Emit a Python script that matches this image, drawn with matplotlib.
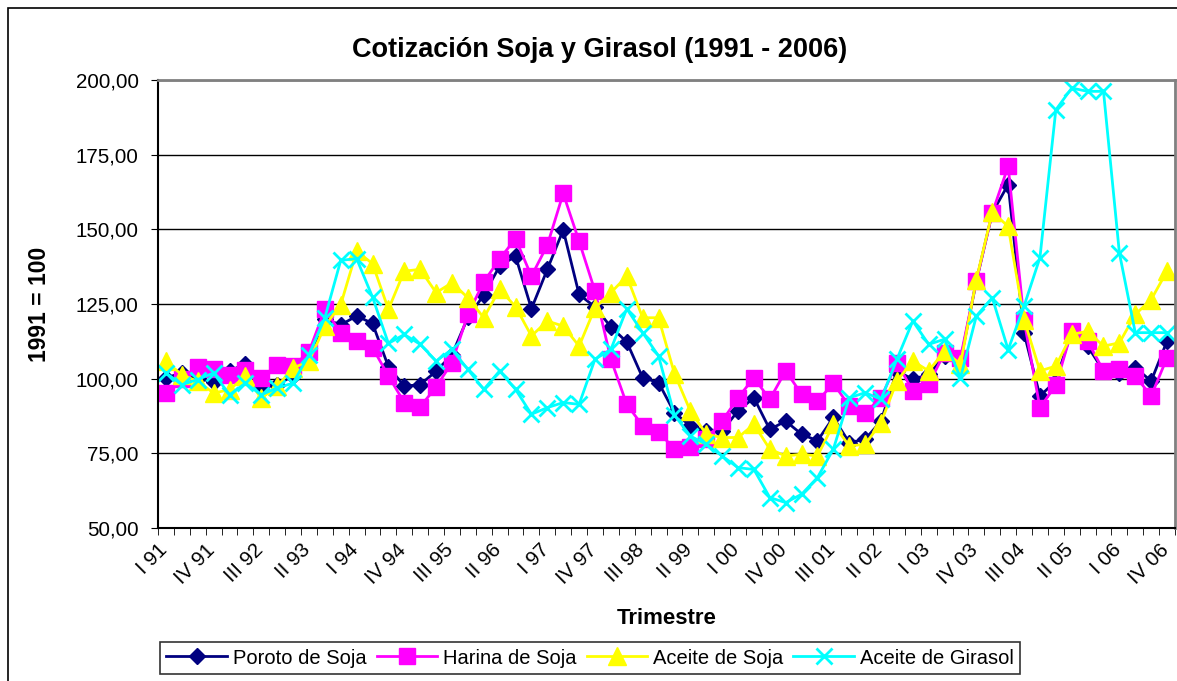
import numpy as np
import matplotlib
matplotlib.use("Agg")
import matplotlib.pyplot as plt
from matplotlib.patches import Rectangle
from matplotlib.transforms import ScaledTranslation

plt.rcParams['font.family'] = ['Liberation Sans', 'DejaVu Sans']

# datos (1991 = 100), trimestres I 91 .. IV 06
anios = list(range(91, 100)) + list(range(0, 7))
romanos = ["I", "II", "III", "IV"]
trimestres = [f"{r} {a:02d}" for a in anios for r in romanos]

poroto = [100.2, 102.0, 100.2, 98.8, 102.5, 105.0, 97.0, 98.0, 101.0, 107.0,
          120.0, 118.0, 121.0, 118.5, 104.0, 97.5, 98.0, 102.5, 108.0, 120.5,
          128.0, 137.7, 141.0, 123.4, 136.6, 149.8, 128.2, 124.0, 117.3, 112.3,
          100.3, 98.7, 88.6, 84.2, 82.5, 82.5, 89.2, 93.6, 83.0, 85.8,
          81.4, 79.2, 87.0, 78.6, 79.7, 85.8, 102.6, 99.8, 101.4, 107.6,
          105.9, 132.7, 155.5, 165.0, 115.3, 94.2, 99.2, 116.0, 110.9, 102.6,
          102.0, 103.7, 99.2, 112.6]

harina = [95.2, 100.0, 104.0, 103.2, 101.3, 103.0, 100.2, 104.7, 104.1, 109.0,
          123.2, 115.4, 112.6, 110.4, 100.9, 92.0, 90.6, 97.2, 105.4, 121.5,
          132.4, 140.1, 146.9, 134.3, 144.7, 162.0, 146.0, 129.3, 106.5, 91.4,
          84.2, 82.2, 76.4, 77.0, 79.7, 85.8, 93.6, 100.3, 93.1, 102.6,
          94.8, 92.5, 98.4, 90.9, 88.6, 93.6, 105.4, 95.9, 98.1, 108.7,
          107.0, 132.7, 155.5, 171.1, 119.5, 90.3, 97.8, 115.9, 112.6, 102.6,
          103.1, 100.9, 94.2, 107.0]

aceite_soja = [105.8, 101.3, 99.1, 95.2, 96.3, 100.8, 93.5, 97.4, 103.6, 105.8,
               117.6, 124.8, 142.7, 138.5, 123.2, 136.0, 136.6, 128.8, 132.1, 127.1,
               120.4, 129.9, 124.1, 114.3, 119.3, 117.6, 110.9, 123.7, 128.8, 134.3,
               120.4, 120.4, 101.7, 89.2, 81.4, 80.3, 80.3, 84.7, 76.4, 74.1,
               74.7, 74.1, 84.7, 77.5, 78.0, 85.3, 99.2, 105.9, 102.6, 109.3,
               104.8, 133.2, 155.8, 151.0, 119.8, 102.6, 104.2, 114.8, 115.9, 110.9,
               112.0, 121.5, 126.5, 136.0]

aceite_girasol = [101.9, 98.0, 99.7, 101.9, 94.6, 98.5, 94.6, 96.9, 98.5, 108.0,
                  120.4, 139.6, 140.2, 127.3, 111.8, 114.8, 111.5, 105.9, 109.8, 103.1,
                  96.4, 102.6, 96.4, 88.1, 90.3, 92.0, 91.4, 106.5, 109.8, 123.4,
                  115.4, 107.6, 87.8, 80.8, 78.0, 74.1, 70.2, 69.6, 60.2, 58.5,
                  61.3, 66.9, 76.4, 93.6, 95.3, 93.1, 106.5, 119.3, 111.5, 113.2,
                  100.3, 121.0, 127.1, 109.7, 124.3, 140.5, 190.0, 197.3, 196.2, 196.2,
                  142.1, 115.4, 115.4, 115.4]

fig = plt.figure(figsize=(11.77, 6.81), dpi=100)
W, H = 1177, 681

# marco del grafico
fig.patches.append(Rectangle((8 / W, -0.1), 1.2, 1.1 - 8 / H, transform=fig.transFigure,
                             fill=False, edgecolor='black', linewidth=1.2))

ax = fig.add_axes([158 / W, (H - 528) / H, 1017 / W, 448 / H])
x = np.arange(len(trimestres))

ax.plot(x, poroto, color='#000080', lw=2, marker='D', ms=8.5, label='Poroto de Soja')
ax.plot(x, harina, color='#FF00FF', lw=2, marker='s', ms=11, label='Harina de Soja')
ax.plot(x, aceite_soja, color='#FFFF00', lw=2, marker='^', ms=12.5, label='Aceite de Soja')
ax.plot(x, aceite_girasol, color='#00FFFF', lw=2, marker='x', ms=11, mew=2,
        label='Aceite de Girasol')

ax.set_xlim(-0.5, len(trimestres) - 0.5)
ax.set_ylim(50, 200)
ax.set_yticks(np.arange(50, 201, 25))
ax.set_yticklabels([f"{v:.2f}".replace('.', ',') for v in np.arange(50, 201, 25)], fontsize=14.8)
ax.grid(axis='y', color='black', lw=1)
ax.set_axisbelow(True)

ax.set_xticks(np.arange(-0.5, len(trimestres), 1), minor=True)
ax.set_xticks(x[::3])
ax.set_xticklabels(trimestres[::3], rotation=45, ha='right', va='top',
                   rotation_mode='anchor', fontsize=14.8)
ax.tick_params(axis='x', which='major', length=0, pad=9)
ax.tick_params(axis='x', which='minor', length=5, direction='out', color='black')
ax.tick_params(axis='y', length=5, direction='out', pad=9)

# etiquetas un poco a la izquierda, como en Excel
desplazar = ScaledTranslation(-0.08, 0, fig.dpi_scale_trans)
for lbl in ax.get_xticklabels():
    lbl.set_transform(lbl.get_transform() + desplazar)

for s in ['top', 'right']:
    ax.spines[s].set_color('#808080')
    ax.spines[s].set_linewidth(2)
for s in ['left', 'bottom']:
    ax.spines[s].set_color('black')
    ax.spines[s].set_linewidth(1.5)

fig.text(600 / W, 1 - 50 / H, "Cotización Soja y Girasol (1991 - 2006)", ha='center',
         va='center', fontsize=19.5, fontweight='bold')
fig.text(40 / W, 1 - 304 / H, "1991 = 100", rotation=90, ha='center', va='center',
         fontsize=16.5, fontweight='bold')
fig.text(667 / W, 1 - 619 / H, "Trimestre", ha='center', va='center',
         fontsize=16, fontweight='bold')

leg = fig.legend(loc='center', bbox_to_anchor=(590 / W, 1 - 658 / H), ncol=4,
                 fontsize=14.5, frameon=True, fancybox=False, edgecolor='black',
                 handlelength=3, handletextpad=0.3, columnspacing=0.5,
                 borderpad=0.3, borderaxespad=0)
leg.get_frame().set_linewidth(1.2)

fig.savefig("out.png", dpi=100)
